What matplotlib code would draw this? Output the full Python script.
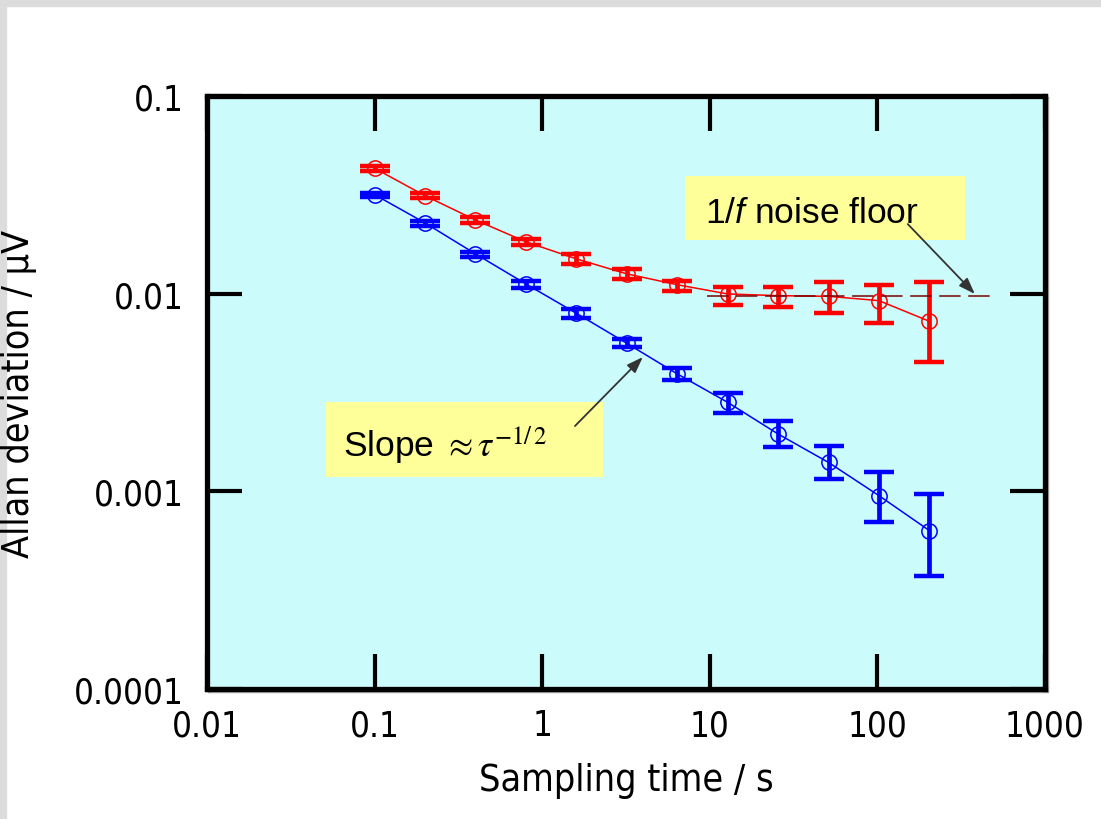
import matplotlib
matplotlib.use("Agg")
import matplotlib.pyplot as plt
from matplotlib import font_manager
from matplotlib.patches import Rectangle

# sampling times (s)
tau = [0.1, 0.2, 0.4, 0.8, 1.6, 3.2, 6.4, 12.8, 25.6, 51.2, 102.4, 204.8]

# upper trace (with 1/f floor)
red_mean = [0.0431, 0.0313, 0.0236, 0.0183, 0.0150, 0.0126, 0.0111,
            0.00997, 0.00977, 0.00970, 0.00922, 0.00725]
red_lo = [0.0417, 0.0305, 0.0228, 0.0177, 0.0142, 0.0119, 0.0103,
          0.00880, 0.00854, 0.00799, 0.00709, 0.00453]
red_hi = [0.0445, 0.0323, 0.0243, 0.0189, 0.0158, 0.0133, 0.0116,
          0.0108, 0.0108, 0.0115, 0.0111, 0.0115]

# lower trace (white noise only)
blue_mean = [0.0317, 0.0228, 0.0159, 0.0112, 0.00796, 0.00561, 0.00393,
             0.00282, 0.00195, 0.00140, 0.000951, 0.000633]
blue_lo = [0.0310, 0.0221, 0.0153, 0.0107, 0.00754, 0.00536, 0.00366,
           0.00248, 0.00167, 0.00116, 0.000698, 0.000375]
blue_hi = [0.0324, 0.0232, 0.0163, 0.0116, 0.00837, 0.00590, 0.00420,
           0.00315, 0.00228, 0.00170, 0.00126, 0.00097]

floor_level = 0.0097
floor_span = [9.6, 470]

xticks = [0.01, 0.1, 1, 10, 100, 1000]
xtick_labels = ["0.01", "0.1", "1", "10", "100", "1000"]
yticks = [0.0001, 0.001, 0.01, 0.1]
ytick_labels = ["0.0001", "0.001", "0.01", "0.1"]


def narrow_font():
    """Pick a condensed sans for the axis text if one is installed."""
    fonts = font_manager.fontManager.ttflist
    if any(f.name == "Liberation Sans Narrow" for f in fonts):
        return dict(family="Liberation Sans Narrow"), 28, 30
    if any(f.name == "DejaVu Sans" and f.stretch == "condensed" for f in fonts):
        return dict(family="DejaVu Sans", stretch="condensed"), 25, 27
    return dict(family="Liberation Sans"), 23, 25


axis_font, tick_size, label_size = narrow_font()

fig = plt.figure(figsize=(11.01, 8.20), dpi=100, facecolor="white")
ax = fig.add_axes([0.188, 0.1585, 0.761, 0.7232])
ax.set_facecolor("#CCFBFB")

# light grey page edge
fig.patches.append(Rectangle((0, 0.9915), 1, 0.0085, transform=fig.transFigure,
                             color="#DCDCDC", zorder=-2))
fig.patches.append(Rectangle((0, 0), 0.0055, 1, transform=fig.transFigure,
                             color="#DCDCDC", zorder=-2))
# faint drop shadow behind the frame
fig.patches.append(Rectangle((0.1900, 0.1560), 0.761, 0.7232, transform=fig.transFigure,
                             facecolor="none", edgecolor="#A8A8A8", lw=2.5, zorder=-1))


def draw_trace(means, lo, hi, color):
    err = [[m - l for m, l in zip(means, lo)], [h - m for m, h in zip(means, hi)]]
    ax.errorbar(tau, means, yerr=err, fmt="none", ecolor=color,
                elinewidth=3.4, capsize=10.5, capthick=3.2, zorder=3)
    ax.plot(tau, means, "o-", color=color, lw=1.1, mfc="none",
            mec=color, ms=11, markeredgewidth=1.1, zorder=4)


draw_trace(red_mean, red_lo, red_hi, "#FF0000")
draw_trace(blue_mean, blue_lo, blue_hi, "#0000FF")

ax.plot(floor_span, [floor_level, floor_level], color="#7A0000", lw=1.1,
        dashes=(14, 5), zorder=5)

ax.set_xscale("log")
ax.set_yscale("log")
ax.set_xlim(0.01, 1000)
ax.set_ylim(0.0001, 0.1)
ax.set_xticks(xticks, labels=xtick_labels)
ax.set_yticks(yticks, labels=ytick_labels)
ax.minorticks_off()

ax.tick_params(which="major", direction="in", length=25, width=3,
               top=True, right=True, labelsize=tick_size, colors="black")
ax.tick_params(axis="y", pad=17)
ax.tick_params(axis="x", pad=14)
for lab in ax.get_xticklabels() + ax.get_yticklabels():
    lab.set(**axis_font)
for s in ax.spines.values():
    s.set_linewidth(3.8)

ax.set_xlabel("Sampling time / s", fontsize=label_size, labelpad=14, **axis_font)
ax.set_ylabel("Allan deviation / μV", fontsize=label_size, labelpad=26, **axis_font)

# annotation boxes
ax.add_patch(Rectangle((0.5704, 0.7572), 0.3341, 0.1079, transform=ax.transAxes,
                       facecolor="#FFFF99", edgecolor="none", zorder=2))
ax.text(0.5943, 0.7875, "1/$f$ noise floor", transform=ax.transAxes,
        family="Liberation Sans", fontsize=25.5, va="baseline", ha="left",
        math_fontfamily="custom", zorder=6)
ax.annotate("", xy=(382, 0.00997), xytext=(152, 0.0225),
            arrowprops=dict(arrowstyle="-|>,head_length=0.7,head_width=0.25",
                            color="#333333", lw=1.3, mutation_scale=14,
                            shrinkA=0, shrinkB=0), zorder=7)

ax.add_patch(Rectangle((0.1420, 0.3575), 0.3306, 0.1265, transform=ax.transAxes,
                       facecolor="#FFFF99", edgecolor="none", zorder=2))
ax.text(0.1623, 0.3929, r"Slope $\approx\tau^{-1/\,2}$", transform=ax.transAxes,
        family="Liberation Sans", fontsize=25.5, va="baseline", ha="left",
        math_fontfamily="stix", zorder=6)
ax.annotate("", xy=(3.99, 0.00478), xytext=(1.57, 0.00214),
            arrowprops=dict(arrowstyle="-|>,head_length=0.7,head_width=0.25",
                            color="#333333", lw=1.3, mutation_scale=14,
                            shrinkA=0, shrinkB=0), zorder=7)

plt.rcParams["mathtext.it"] = "Liberation Sans:italic"
plt.rcParams["mathtext.rm"] = "Liberation Sans"
plt.rcParams["mathtext.fontset"] = "custom"

fig.savefig("out.png", dpi=100, facecolor="white")
